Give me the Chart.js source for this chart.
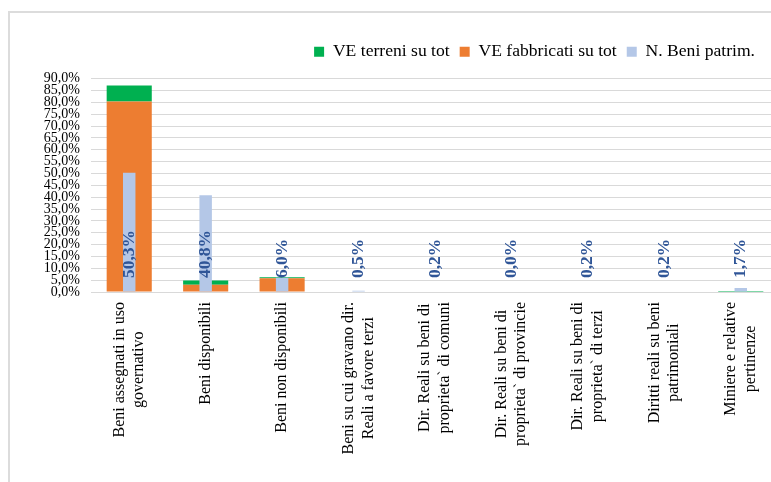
<!DOCTYPE html>
<html>
<head>
<meta charset="utf-8">
<script src="https://cdn.jsdelivr.net/npm/chart.js@4.4.1/dist/chart.umd.min.js"></script>
<style>
html,body{margin:0;padding:0;background:#fff;overflow:hidden;width:771px;height:482px;}
#wrap{position:relative;width:771px;height:482px;overflow:hidden;background:#fff;}
#frame{position:absolute;left:8px;top:11px;width:900px;height:600px;border-left:2px solid #dcdcdc;border-top:2px solid #dcdcdc;pointer-events:none;}
canvas{position:absolute;left:0;top:0;}
</style>
</head>
<body>
<div id="wrap"><div id="frame"></div><canvas id="c" width="790" height="482"></canvas></div>
<script>
// ---- data ----
const categories = [
  ["Beni assegnati in uso", "governativo"],
  ["Beni disponibili"],
  ["Beni non disponibili"],
  ["Beni su cui gravano dir.", "Reali a favore terzi"],
  ["Dir. Reali su beni di", "proprieta` di comuni"],
  ["Dir. Reali su beni di", "proprieta` di provincie"],
  ["Dir. Reali su beni di", "proprieta` di terzi"],
  ["Diritti reali su beni", "patrimoniali"],
  ["Miniere e relative", "pertinenze"]
];
const seriesNames = ["VE terreni su tot", "VE fabbricati su tot", "N. Beni patrim."];
const veTerreni    = [6.8, 1.8, 0.4, 0.0, 0.0, 0.0, 0.0, 0.0, 0.4];
const veFabbricati = [80.3, 3.1, 5.8, 0.0, 0.0, 0.0, 0.0, 0.0, 0.0];
const nBeniPatrim  = [50.3, 40.8, 6.0, 0.5, 0.2, 0.0, 0.2, 0.2, 1.7];
const yMin = 0, yMax = 90, yStep = 5;

const fmtPct = v => v.toFixed(1).replace('.', ',') + '%';
const SERIF = '"Liberation Serif", "Times New Roman", serif';

const valueLabels = {
  id: 'valueLabels',
  afterDatasetsDraw(chart) {
    const ctx = chart.ctx;
    const meta = chart.getDatasetMeta(2);
    const y0 = chart.scales.y.getPixelForValue(0);
    ctx.save();
    ctx.font = 'bold 17.5px ' + SERIF;
    ctx.fillStyle = '#2F5597';
    ctx.textAlign = 'left';
    ctx.textBaseline = 'middle';
    meta.data.forEach((bar, i) => {
      ctx.save();
      ctx.translate(bar.x, y0 - 14);
      ctx.rotate(-Math.PI / 2);
      ctx.fillText(fmtPct(nBeniPatrim[i]), 0, 0);
      ctx.restore();
    });
    ctx.restore();
  }
};

const catLabels = {
  id: 'catLabels',
  afterDraw(chart) {
    const ctx = chart.ctx;
    const xs = chart.scales.x;
    const base = chart.chartArea.bottom + 10;
    ctx.save();
    ctx.font = '16px ' + SERIF;
    ctx.fillStyle = '#000';
    ctx.textAlign = 'center';
    ctx.textBaseline = 'middle';
    categories.forEach((lines, i) => {
      const x = xs.getPixelForValue(i);
      const wmax = Math.max(...lines.map(l => ctx.measureText(l).width));
      const n = lines.length, L = 19.5;
      ctx.save();
      ctx.translate(x, base + wmax / 2);
      ctx.rotate(-Math.PI / 2);
      lines.forEach((l, k) => ctx.fillText(l, 0, (k - (n - 1) / 2) * L));
      ctx.restore();
    });
    ctx.restore();
  }
};

const legendShift = {
  id: 'legendShift',
  afterLayout(chart) {
    if (chart.legend) chart.legend.right -= 14;
  }
};

const legendOrder = [1, 0, 2];

new Chart(document.getElementById('c'), {
  type: 'bar',
  data: {
    labels: categories,
    datasets: [
      { label: seriesNames[1], data: veFabbricati, backgroundColor: '#ED7D31', borderWidth: 0,
        order: 1, stack: 'valori', grouped: false, categoryPercentage: 1, barPercentage: 0.59 },
      { label: seriesNames[0], data: veTerreni, backgroundColor: '#00B050', borderWidth: 0,
        order: 2, stack: 'valori', grouped: false, categoryPercentage: 1, barPercentage: 0.59 },
      { label: seriesNames[2], data: nBeniPatrim, backgroundColor: '#B4C7E7', borderWidth: 0,
        order: 0, stack: 'numero', grouped: false, categoryPercentage: 1, barPercentage: 0.163 }
    ]
  },
  options: {
    responsive: false,
    animation: false,
    devicePixelRatio: 1,
    layout: { padding: { top: 33, right: 11, bottom: 0, left: 0 } },
    plugins: {
      tooltip: { enabled: false },
      title: { display: true, text: '', padding: 0, font: { size: 8, lineHeight: 1 } },
      legend: {
        display: true,
        position: 'top',
        align: 'end',
        weight: 3000,
        labels: {
          boxWidth: 10,
          boxHeight: 10,
          padding: 10,
          color: '#000',
          font: { family: SERIF, size: 17.6 },
          sort: (a, b) => legendOrder[a.datasetIndex] - legendOrder[b.datasetIndex]
        }
      }
    },
    scales: {
      x: {
        type: 'category',
        offset: true,
        grid: { display: false },
        border: { display: true, color: '#d9d9d9', width: 1 },
        ticks: { display: false },
        afterFit: s => { s.height = 190; }
      },
      y: {
        stacked: true,
        min: yMin,
        max: yMax,
        border: { display: false },
        grid: { color: '#d9d9d9', lineWidth: 1, drawTicks: false },
        ticks: {
          stepSize: yStep,
          autoSkip: false,
          padding: 11,
          color: '#000',
          font: { family: SERIF, size: 14 },
          callback: v => fmtPct(v)
        },
        afterFit: s => { s.width = 91; }
      }
    }
  },
  plugins: [valueLabels, catLabels, legendShift]
});
</script>
</body>
</html>
